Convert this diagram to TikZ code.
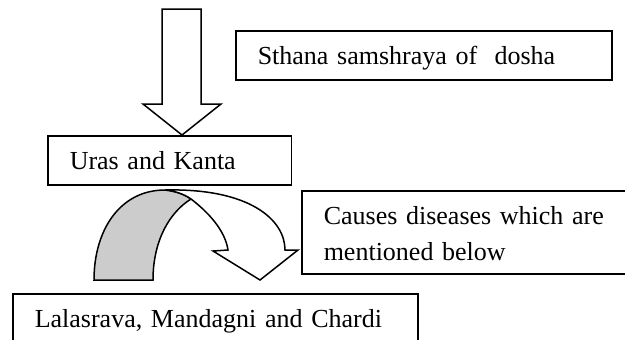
\documentclass[tikz,border=0pt]{standalone}
\usepackage{fontspec}
\setmainfont{Liberation Serif}
\tikzset{
    txtbox/.style={draw,line width=0.75pt,anchor=north west,inner xsep=11pt,inner ysep=0pt,
        text height=17pt,align=left,font=\fontsize{13}{18}\selectfont},
    blockarrow/.style={draw,line width=0.75pt,line join=miter},
}

\begin{document}
\begin{tikzpicture}[x=0.5pt,y=-0.5pt]
            \useasboundingbox (0,0) rectangle (625,339);
            \node[txtbox,text width=166pt,text depth=7.5pt] (sthana) at (235,30) {Sthana samshraya of\ \ dosha};
            \node[txtbox,text width=99.75pt,text depth=7.5pt] (uras) at (47,135) {Uras and Kanta};
            \node[txtbox,text width=148pt,text depth=24.5pt] (causes) at (301,190) {Causes diseases which are\\mentioned below};
            \node[txtbox,text width=180.5pt,text depth=20pt] (lala) at (12,293) {Lalasrava, Mandagni and Chardi};
            \draw[blockarrow,fill=white] (162,9) -- (201,9) -- (201,104) -- (221,104) -- (182,135)
                -- (143,104) -- (162,104) -- cycle;
            \draw[blockarrow,fill=black!20] (94,280) .. controls (94,230) and (120,190) .. (165,190)
                .. controls (175,191) and (184,194) .. (191,199)
                .. controls (170,212) and (153,240) .. (153,280) -- cycle;
            \draw[blockarrow,fill=white] (165,190) .. controls (250,188) and (285,220) .. (285,250)
                -- (298,250) -- (260,280) -- (213,251) -- (228,250)
                .. controls (225,230) and (208,212) .. (191,199)
                .. controls (184,194) and (175,191) .. (165,190) -- cycle;
        \end{tikzpicture}
\end{document}
